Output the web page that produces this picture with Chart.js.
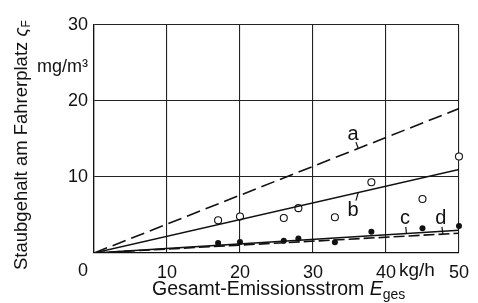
<!DOCTYPE html>
<html>
<head>
<meta charset="utf-8">
<script src="https://cdn.jsdelivr.net/npm/chart.js@4/dist/chart.umd.min.js"></script>
<style>
  body { margin: 0; background: #fff; }
  #wrap { width: 478px; height: 303px; }
</style>
</head>
<body>
<div id="wrap"><canvas id="dustChart"></canvas></div>
<script>
// x positions for the regression lines, and their values at 0 and 50 kg/h
const lineX = [0, 50];
const lineA = [0, 19.0];
const lineB = [0, 11.0];
const lineC = [0, 3.0];
const lineD = [0, 2.6];

// measured points (open and filled circles)
const pointX = [17, 20, 26, 28, 33, 38, 45, 50];
const openY = [4.3, 4.8, 4.6, 5.9, 4.7, 9.3, 7.1, 12.7];
const filledY = [1.3, 1.45, 1.6, 1.9, 1.4, 2.8, 3.25, 3.55];

// axis ticks
const xTicks = [0, 10, 20, 30, 40, 50];
const yTicks = [0, 10, 20, 30];

// curve labels (placed in data coordinates)
const curveNames = ['a', 'b', 'c', 'd'];
const curveLabelX = [35.5, 35.5, 42.6, 47.5];
const curveLabelY = [15.6, 5.6, 4.5, 4.6];
const leaderX = [36.2, 36.2, 42.8, 47.8];

const FONT = '"Liberation Sans", Arial, sans-serif';
const INK = '#111';

const toPts = (xs, ys) => xs.map((x, i) => ({ x: x, y: ys[i] }));

const annotations = {
  id: 'annotations',
  afterDraw(chart) {
    const ctx = chart.ctx;
    const xs = chart.scales.x;
    const ys = chart.scales.y;
    const lines = [lineA, lineB, lineC, lineD];
    ctx.save();
    ctx.fillStyle = INK;
    ctx.strokeStyle = INK;
    ctx.font = '18px ' + FONT;
    ctx.textBaseline = 'middle';

    // shared origin label and units
    ctx.textAlign = 'center';
    ctx.fillText('0', 83, 271);
    ctx.textAlign = 'left';
    ctx.font = '19px ' + FONT;
    ctx.fillText('kg/h', xs.getPixelForValue(40) + 13, 271);
    ctx.textAlign = 'right';
    ctx.font = '18px ' + FONT;
    ctx.fillText('mg/m\u00B3', 88, 67);

    // curve labels with short leader lines
    ctx.textAlign = 'center';
    ctx.font = '20px ' + FONT;
    ctx.lineWidth = 1.2;
    curveNames.forEach((name, i) => {
      const lx = xs.getPixelForValue(curveLabelX[i]);
      const ly = ys.getPixelForValue(curveLabelY[i]);
      ctx.fillText(name, lx, ly);
      const tv = lines[i][1] / lineX[1] * leaderX[i];
      const tx = xs.getPixelForValue(leaderX[i]);
      const ty = ys.getPixelForValue(tv);
      ctx.beginPath();
      ctx.moveTo(lx + (tx - lx) * 0.55, ly + (ty - ly) * 0.55);
      ctx.lineTo(tx, ty);
      ctx.stroke();
    });

    // x axis title: Gesamt-Emissionsstrom E_ges
    ctx.textAlign = 'left';
    let x0 = 152;
    const yT = 290;
    ctx.font = '19.5px ' + FONT;
    const part1 = 'Gesamt-Emissionsstrom ';
    ctx.fillText(part1, x0, yT);
    x0 += ctx.measureText(part1).width;
    ctx.font = 'italic 19.5px ' + FONT;
    ctx.fillText('E', x0, yT);
    x0 += ctx.measureText('E').width;
    ctx.font = '14px ' + FONT;
    ctx.fillText('ges', x0, yT + 5);

    // y axis title, rotated
    ctx.translate(22, 270);
    ctx.rotate(-Math.PI / 2);
    let p = 0;
    ctx.font = '18.5px ' + FONT;
    const t1 = 'Staubgehalt am Fahrerplatz ';
    ctx.fillText(t1, p, 0);
    p += ctx.measureText(t1).width;
    ctx.font = 'italic 18.5px ' + FONT;
    ctx.fillText('\u03C2', p, 0);
    p += ctx.measureText('\u03C2').width;
    ctx.font = '12px ' + FONT;
    ctx.fillText('F', p, 5);
    ctx.restore();
  }
};

new Chart(document.getElementById('dustChart').getContext('2d'), {
  type: 'line',
  data: {
    datasets: [
      { data: toPts(lineX, lineA), borderColor: INK, borderWidth: 1.6, borderDash: [14, 6], pointRadius: 0 },
      { data: toPts(lineX, lineB), borderColor: INK, borderWidth: 1.5, pointRadius: 0 },
      { data: toPts(lineX, lineC), borderColor: INK, borderWidth: 1.6, pointRadius: 0 },
      { data: toPts(lineX, lineD), borderColor: INK, borderWidth: 1.6, borderDash: [11, 4], pointRadius: 0 },
      { data: toPts(pointX, openY), showLine: false, pointRadius: 3.5, pointBorderWidth: 1.1,
        pointBackgroundColor: '#fff', pointBorderColor: INK, clip: false },
      { data: toPts(pointX, filledY), showLine: false, pointRadius: 3, pointBorderWidth: 0,
        pointBackgroundColor: INK, clip: false }
    ]
  },
  options: {
    responsive: true,
    maintainAspectRatio: false,
    animation: false,
    layout: { padding: { left: 0, right: 14, top: 25, bottom: 0 } },
    plugins: { legend: { display: false }, tooltip: { enabled: false } },
    scales: {
      x: {
        type: 'linear',
        min: 0,
        max: 50,
        afterFit: (s) => { s.height = 50; },
        afterBuildTicks: (s) => { s.ticks = xTicks.map(v => ({ value: v })); },
        ticks: {
          padding: 9,
          color: INK,
          font: { family: FONT, size: 18 },
          maxRotation: 0,
          callback: (v) => (v === 0 ? '' : String(v))
        },
        grid: { color: '#222', lineWidth: 1.1, drawTicks: false },
        border: { color: INK, width: 1.3 }
      },
      y: {
        type: 'linear',
        min: 0,
        max: 30,
        afterFit: (s) => { s.width = 94; },
        afterBuildTicks: (s) => { s.ticks = yTicks.map(v => ({ value: v })); },
        ticks: {
          padding: 6,
          color: INK,
          font: { family: FONT, size: 18 },
          callback: (v) => (v === 0 ? '' : String(v))
        },
        grid: { color: '#222', lineWidth: 1.1, drawTicks: false },
        border: { color: INK, width: 1.3 }
      }
    }
  },
  plugins: [annotations]
});
</script>
</body>
</html>
